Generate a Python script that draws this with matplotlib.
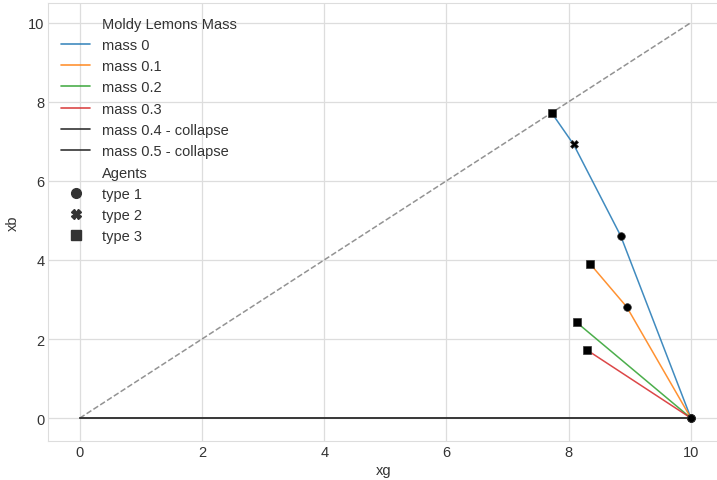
import numpy as np
import matplotlib
matplotlib.use("Agg")
import matplotlib.pyplot as plt
import seaborn as sns
from matplotlib.lines import Line2D

sns.set_style("whitegrid")
plt.rcParams['font.family'] = ['Liberation Sans', 'DejaVu Sans']

# ----- data -----
masses = ["mass 0", "mass 0.1", "mass 0.2", "mass 0.3"]
line_colors = ["#1f77b4", "#ff7f0e", "#2ca02c", "#d62728"]

# each path starts at (10, 0); points are the agents in order
xg_paths = [[10, 8.85, 8.08, 7.72],
            [10, 8.95, 8.35],
            [10, 8.13],
            [10, 8.30]]
xb_paths = [[0, 4.61, 6.92, 7.72],
            [0, 2.81, 3.90],
            [0, 2.42],
            [0, 1.72]]
types_paths = [[1, 1, 2, 3],
               [1, 1, 3],
               [1, 3],
               [1, 3]]

collapse_labels = ["mass 0.4 - collapse", "mass 0.5 - collapse"]
collapse_xg = [0, 10]
collapse_xb = [0, 0]

diag_x = [0, 10]
diag_y = [0, 10]

agent_types = ["type 1", "type 2", "type 3"]
type_markers = {1: "o", 2: "X", 3: "s"}

fig = plt.figure(figsize=(7.17, 4.81), dpi=100)
ax = fig.add_axes([0.067, 0.081, 0.935, 0.911])

ax.grid(color='#dddddd', lw=0.9)
for sp in ax.spines.values():
    sp.set_color('#dddddd')

ax.plot(diag_x, diag_y, '--', color='gray', lw=1.1, alpha=0.85, zorder=2)

for lab in collapse_labels:
    ax.plot(collapse_xg, collapse_xb, color='#333333', lw=1.4, alpha=0.8, zorder=2)

for xs, ys, ts, col in zip(xg_paths, xb_paths, types_paths, line_colors):
    ax.plot(xs, ys, color=col, lw=1.1, alpha=0.85, zorder=3)
    for x, y, t in zip(xs, ys, ts):
        ax.plot(x, y, marker=type_markers[t], color='black', ms=5.5,
                mec='#333333', mew=0.5, ls='none', zorder=4)

ax.set_xlim(-0.52, 10.45)
ax.set_ylim(-0.58, 10.5)
ax.set_xticks([0, 2, 4, 6, 8, 10])
ax.set_yticks([0, 2, 4, 6, 8, 10])
ax.tick_params(labelsize=10.5, colors='#333333', pad=2.5, length=0)
ax.set_xlabel("xg", fontsize=10.5, color='#333333', labelpad=3)
ax.set_ylabel("xb", fontsize=10.5, color='#333333', labelpad=6)

blank = Line2D([], [], color='none')
handles = [blank]
labels = ["Moldy Lemons Mass"]
for m, c in zip(masses, line_colors):
    handles.append(Line2D([], [], color=c, lw=1.2, alpha=0.85))
    labels.append(m)
for lab in collapse_labels:
    handles.append(Line2D([], [], color='#333333', lw=1.2))
    labels.append(lab)
handles.append(blank)
labels.append("Agents")
for t, lab in zip([1, 2, 3], agent_types):
    handles.append(Line2D([], [], marker=type_markers[t], color='#333333',
                          ls='none', ms=7))
    labels.append(lab)

leg = ax.legend(handles, labels, loc='upper left', frameon=False,
                fontsize=10.5, handlelength=2.0, borderaxespad=0.3,
                labelspacing=0.5, bbox_to_anchor=(0.0045, 0.992))
for txt in leg.get_texts():
    txt.set_color('#333333')

fig.savefig("out.png", dpi=100)
